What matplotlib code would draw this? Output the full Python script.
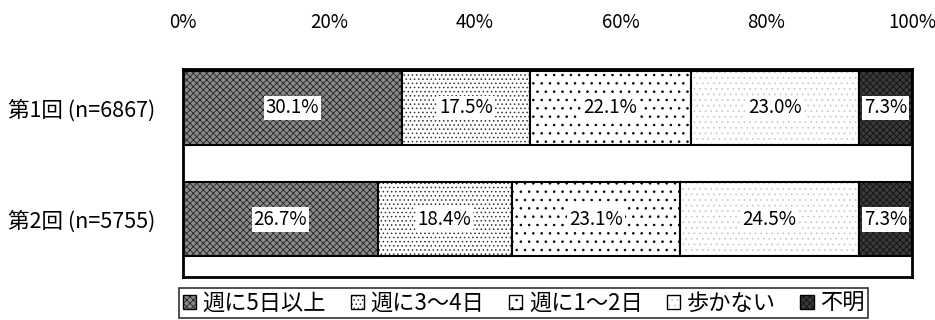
import matplotlib
matplotlib.use("Agg")
import matplotlib.pyplot as plt
from matplotlib.patches import Patch
import numpy as np

plt.rcParams['font.family'] = ['Noto Sans CJK JP', 'DejaVu Sans']
plt.rcParams['hatch.linewidth'] = 0.6

rounds = ["第1回 (n=6867)", "第2回 (n=5755)"]
categories = ["週に5日以上", "週に3～4日", "週に1～2日", "歩かない", "不明"]
values = {
    "週に5日以上": [30.1, 26.7],
    "週に3～4日": [17.5, 18.4],
    "週に1～2日": [22.1, 23.1],
    "歩かない": [23.0, 24.5],
    "不明": [7.3, 7.3],
}
xticks = [0, 20, 40, 60, 80, 100]

# face colour, hatch, hatch colour
styles = [
    ("#8a8a8a", "xxxxx", "#222222"),
    ("white", "....", "#333333"),
    ("white", "..", "black"),
    ("white", "...", "#cccccc"),
    ("#3a3a3a", "xxxxx", "#111111"),
]

fig = plt.figure(figsize=(9.35, 3.2), dpi=100)
ax = fig.add_axes([0.1957, 0.1344, 0.7797, 0.65])

y = np.arange(len(rounds))
left = np.zeros(len(rounds))
for cat, (fc, hatch, hc) in zip(categories, styles):
    vals = np.array(values[cat])
    ax.barh(y, vals, left=left, height=0.66, color=fc, hatch=hatch,
            edgecolor=hc, linewidth=0)
    ax.barh(y, vals, left=left, height=0.66, fill=False,
            edgecolor="black", linewidth=1.5)
    for yi, v, l in zip(y, vals, left):
        ax.text(l + v / 2, yi, f"{v:.1f}%", ha="center", va="center",
                fontsize=13.5,
                bbox=dict(boxstyle="square,pad=0.1", fc="white", ec="none"))
    left += vals

ax.set_xlim(0, 100)
ax.set_ylim(1.52, -0.35)
ax.xaxis.tick_top()
ax.set_xticks(xticks)
ax.set_xticklabels([f"{t}%" for t in xticks], fontsize=13.5)
ax.set_yticks(y)
ax.set_yticklabels(rounds, fontsize=15.5)
ax.tick_params(axis="x", length=0, pad=26)
ax.tick_params(axis="y", length=0, pad=20)
for s in ax.spines.values():
    s.set_linewidth(2)

handles = [(Patch(facecolor=fc, hatch=h, edgecolor=hc, linewidth=0),
            Patch(fill=False, edgecolor="black", linewidth=1))
           for fc, h, hc in styles]
leg = fig.legend(handles, categories, loc="lower left",
                 bbox_to_anchor=(177 / 935, 0.0), ncol=5, fontsize=16,
                 frameon=True, fancybox=False, edgecolor="black",
                 handlelength=0.6, handleheight=0.6, handletextpad=0.3,
                 columnspacing=1.1, borderpad=0.15, borderaxespad=0.1)
leg.get_frame().set_linewidth(1.2)

fig.savefig("out.png", dpi=100)
